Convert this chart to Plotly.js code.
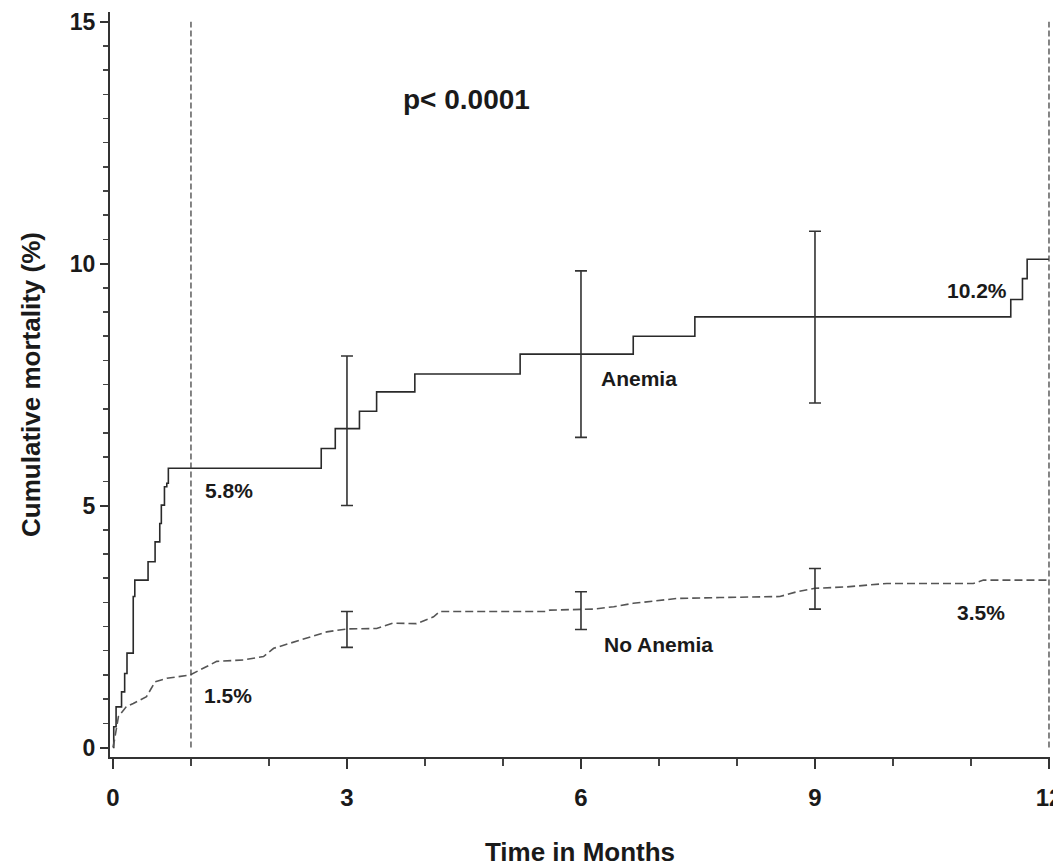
<!DOCTYPE html>
<html>
<head>
<meta charset="utf-8">
<script src="https://cdn.plot.ly/plotly-3.0.1.min.js"></script>
<style>html,body{margin:0;padding:0;background:#fff;}#chart{width:1053px;height:867px;}</style>
</head>
<body>
<div id="chart"></div>
<script>
// Anemia group: Kaplan-Meier cumulative mortality (%) step points
const anemiaMonths = [0, 0.01, 0.04, 0.11, 0.15, 0.18, 0.26, 0.28, 0.45, 0.54, 0.60, 0.62, 0.66, 0.69, 0.71, 2.67, 2.85, 3.16, 3.38, 3.87, 5.22, 6.67, 7.46, 11.51, 11.66, 11.72, 12.0];
const anemiaMortality = [0, 0.43, 0.84, 1.15, 1.53, 1.95, 3.12, 3.46, 3.84, 4.25, 4.63, 5.01, 5.39, 5.46, 5.77, 6.18, 6.59, 6.95, 7.35, 7.72, 8.13, 8.50, 8.90, 9.26, 9.69, 10.09, 10.09];

// No-anemia group
const noAnemiaMonths = [0, 0.02, 0.07, 0.17, 0.26, 0.43, 0.54, 0.69, 0.99, 1.33, 1.67, 1.93, 2.06, 2.27, 2.48, 2.74, 3.0, 3.38, 3.59, 3.89, 4.11, 4.19, 5.56, 5.60, 6.16, 6.42, 6.67, 6.93, 7.23, 7.78, 8.55, 8.77, 9.0, 9.41, 9.92, 11.03, 11.16, 12.0];
const noAnemiaMortality = [0, 0.16, 0.64, 0.84, 0.91, 1.05, 1.36, 1.43, 1.50, 1.78, 1.81, 1.88, 2.05, 2.15, 2.26, 2.39, 2.45, 2.46, 2.57, 2.56, 2.70, 2.81, 2.81, 2.84, 2.86, 2.91, 2.98, 3.03, 3.08, 3.10, 3.12, 3.22, 3.29, 3.32, 3.39, 3.39, 3.46, 3.46];

// 95% confidence intervals at 3, 6, 9 months
const ciMonths = [3, 6, 9];
const anemiaCiCenter = [6.59, 8.13, 8.90];
const anemiaCiLower = [5.0, 6.41, 7.12];
const anemiaCiUpper = [8.09, 9.85, 10.67];
const noAnemiaCiCenter = [2.45, 2.84, 3.29];
const noAnemiaCiLower = [2.07, 2.44, 2.86];
const noAnemiaCiUpper = [2.81, 3.22, 3.70];

// Reference lines (months)
const refMonths = [1, 12];

// Labels
const xTicks = [0, 3, 6, 9, 12];
const yTicks = [0, 5, 10, 15];
const labelTexts = ['p< 0.0001', '5.8%', '1.5%', 'Anemia', 'No Anemia', '10.2%', '3.5%'];
const labelMonths = [4.53, 1.49, 1.47, 6.74, 6.99, 11.08, 11.13];
const labelValues = [13.4, 5.32, 1.08, 7.63, 2.12, 9.45, 2.78];

const FONT = '"Liberation Sans", Arial, Helvetica, sans-serif';
const INK = '#1a1a1a';

function diff(a, b) { return a.map((v, i) => v - b[i]); }

const traces = [
  {
    x: anemiaMonths, y: anemiaMortality, type: 'scatter', mode: 'lines',
    line: {shape: 'hv', color: '#2a2a2a', width: 1.6}, hoverinfo: 'skip'
  },
  {
    x: noAnemiaMonths, y: noAnemiaMortality, type: 'scatter', mode: 'lines',
    line: {color: '#555', width: 1.6, dash: '8px,4px'}, hoverinfo: 'skip'
  },
  {
    x: ciMonths, y: anemiaCiCenter, type: 'scatter', mode: 'markers',
    marker: {size: 1, color: 'rgba(0,0,0,0)'},
    error_y: {type: 'data', symmetric: false, array: diff(anemiaCiUpper, anemiaCiCenter),
      arrayminus: diff(anemiaCiCenter, anemiaCiLower), color: '#333', thickness: 1.6, width: 6},
    hoverinfo: 'skip'
  },
  {
    x: ciMonths, y: noAnemiaCiCenter, type: 'scatter', mode: 'markers',
    marker: {size: 1, color: 'rgba(0,0,0,0)'},
    error_y: {type: 'data', symmetric: false, array: diff(noAnemiaCiUpper, noAnemiaCiCenter),
      arrayminus: diff(noAnemiaCiCenter, noAnemiaCiLower), color: '#333', thickness: 1.6, width: 6},
    hoverinfo: 'skip'
  }
];

const shapes = refMonths.map(m => ({
  type: 'line', xref: 'x', yref: 'y', x0: m, x1: m, y0: 0, y1: 15,
  line: {color: '#444', width: 1.3, dash: '6px,3px'}
}));

const annotations = labelTexts.map((t, i) => ({
  text: t, x: labelMonths[i], y: labelValues[i], xref: 'x', yref: 'y',
  showarrow: false, xanchor: 'center', yanchor: 'middle',
  font: {family: FONT, size: i === 0 ? 28 : 21, color: INK, weight: 'bold'}
}));

const layout = {
  width: 1053, height: 867,
  margin: {l: 110, r: 3, t: 12, b: 110},
  paper_bgcolor: '#fff', plot_bgcolor: '#fff',
  showlegend: false,
  font: {family: FONT, color: INK},
  xaxis: {
    range: [-0.038, 12.013], showgrid: false, zeroline: false,
    showline: true, linecolor: '#333', linewidth: 2,
    tickmode: 'array', tickvals: xTicks, ticktext: xTicks.map(String),
    ticks: 'outside', ticklen: 10, tickwidth: 2, tickcolor: '#333',
    ticklabeloverflow: 'allow', ticklabelstandoff: 8,
    minor: {dtick: 1, tick0: 0, ticks: 'outside', ticklen: 7, tickwidth: 1.5, tickcolor: '#444', showgrid: false},
    tickfont: {family: FONT, size: 24, color: INK, weight: 'bold'},
    title: {text: 'Time in Months', font: {family: FONT, size: 26, color: INK, weight: 'bold'}, standoff: 36},
    automargin: false
  },
  yaxis: {
    range: [-0.196, 15.2], showgrid: false, zeroline: false,
    showline: true, linecolor: '#333', linewidth: 2,
    tickmode: 'array', tickvals: yTicks, ticktext: yTicks.map(String),
    ticks: 'outside', ticklen: 8, tickwidth: 2, tickcolor: '#333',
    minor: {dtick: 0.5, tick0: 0, ticks: 'outside', ticklen: 5, tickwidth: 1.5, tickcolor: '#444', showgrid: false},
    tickfont: {family: FONT, size: 23, color: INK, weight: 'bold'},
    title: {text: 'Cumulative mortality (%)', font: {family: FONT, size: 26, color: INK, weight: 'bold'}, standoff: 22},
    automargin: false
  },
  shapes: shapes,
  annotations: annotations
};

Plotly.newPlot('chart', traces, layout, {staticPlot: true, displayModeBar: false});
</script>
</body>
</html>
